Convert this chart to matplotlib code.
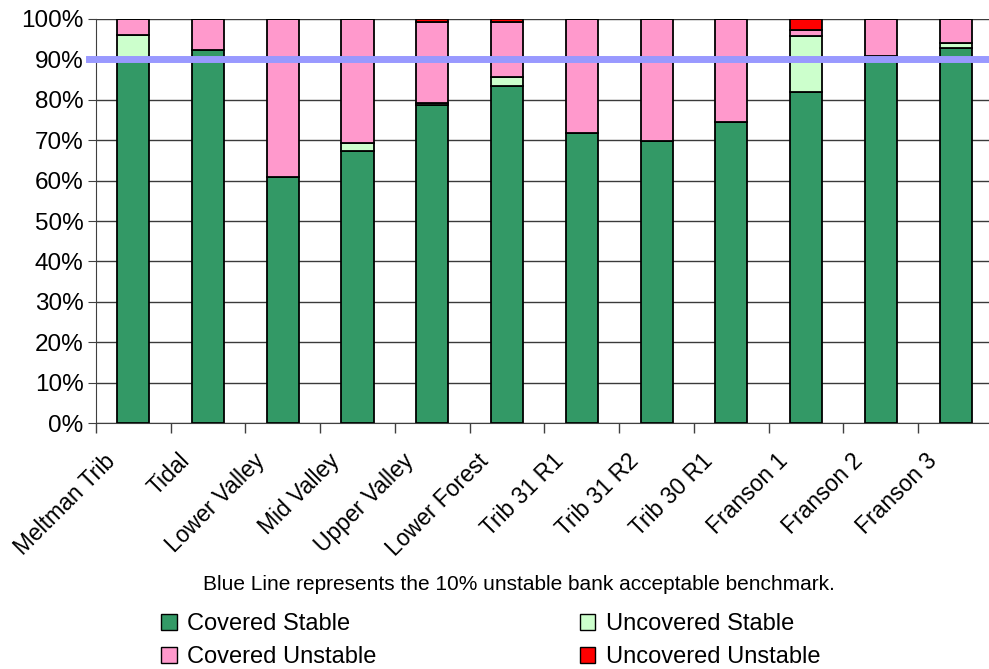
import numpy as np
import matplotlib
matplotlib.use("Agg")
import matplotlib.pyplot as plt
from matplotlib.patches import Patch
from matplotlib.ticker import FuncFormatter, MultipleLocator

plt.rcParams["font.family"] = ["Liberation Sans", "DejaVu Sans"]

# Bank condition by reach, percent of surveyed bank length
reaches = ["Meltman Trib", "Tidal", "Lower Valley", "Mid Valley", "Upper Valley",
           "Lower Forest", "Trib 31 R1", "Trib 31 R2", "Trib 30 R1",
           "Franson 1", "Franson 2", "Franson 3"]
covered_stable = [90.4, 92.3, 61.0, 67.3, 78.7, 83.5, 71.8, 69.8, 74.6, 82.0, 90.8, 92.9]
uncovered_stable = [5.7, 0.0, 0.0, 2.0, 0.5, 2.2, 0.0, 0.0, 0.0, 13.9, 0.0, 1.1]
covered_unstable = [3.9, 7.7, 39.0, 30.7, 20.1, 13.6, 28.2, 30.2, 25.4, 1.3, 9.2, 6.0]
uncovered_unstable = [0.0, 0.0, 0.0, 0.0, 0.7, 0.7, 0.0, 0.0, 0.0, 2.8, 0.0, 0.0]
benchmark = 90  # 10% unstable bank

series = [
    ("Covered Stable", covered_stable, "#339966"),
    ("Uncovered Stable", uncovered_stable, "#CCFFCC"),
    ("Covered Unstable", covered_unstable, "#FF99CC"),
    ("Uncovered Unstable", uncovered_unstable, "#FF0000"),
]

fig = plt.figure(figsize=(9.89, 6.69), dpi=100)
ax = fig.add_axes([0.097, 0.3677, 0.907, 0.6039])

x = np.arange(len(reaches))
bottom = np.zeros(len(reaches))
for name, vals, color in series:
    vals = np.array(vals)
    ax.bar(x, vals, width=0.43, bottom=bottom, color=color,
           edgecolor="black", linewidth=1.3, label=name, zorder=3)
    bottom += vals

# benchmark line runs a little past the y axis
ax.axhline(benchmark, xmin=-0.008, color="#9999FF", linewidth=5,
           zorder=4, clip_on=False)

ax.set_ylim(0, 100)
ax.set_xlim(-0.5, len(reaches) - 0.5)
ax.yaxis.set_major_locator(MultipleLocator(10))
ax.yaxis.set_major_formatter(FuncFormatter(lambda v, _: f"{v:.0f}%"))
ax.grid(axis="y", color="#3a3a3a", linewidth=1, zorder=0)
ax.get_ygridlines()[-1].set_color("#a8a8a8")

# tick marks sit between categories, labels are shifted left of the bars
ax.set_xticks(x - 0.5, minor=True)
ax.set_xticks(x - 0.4)
ax.set_xticklabels(reaches, rotation=45, ha="right", va="top",
                   rotation_mode="anchor", fontsize=16.5)
ax.tick_params(axis="x", which="major", length=0, pad=19)
ax.tick_params(axis="x", which="minor", length=7, color="#404040", width=1)
ax.tick_params(axis="y", length=6, labelsize=17.5, pad=3, color="#404040")

for side in ("top", "right"):
    ax.spines[side].set_visible(False)
ax.spines["left"].set_color("#404040")
ax.spines["bottom"].set_color("#404040")

fig.text(0.525, 0.127, "Blue Line represents the 10% unstable bank acceptable benchmark.",
         ha="center", va="center", fontsize=15)

handles = [Patch(facecolor=c, edgecolor="black", label=n) for n, _, c in series]
handles = [handles[0], handles[2], handles[1], handles[3]]
fig.legend(handles=handles, loc="upper left", bbox_to_anchor=(0.163, 0.083),
           ncol=2, frameon=False, fontsize=17, handlelength=0.65, handleheight=0.65,
           handletextpad=0.45, columnspacing=8.6, labelspacing=0.45,
           borderaxespad=0, borderpad=0)

fig.savefig("out.png", dpi=100)
